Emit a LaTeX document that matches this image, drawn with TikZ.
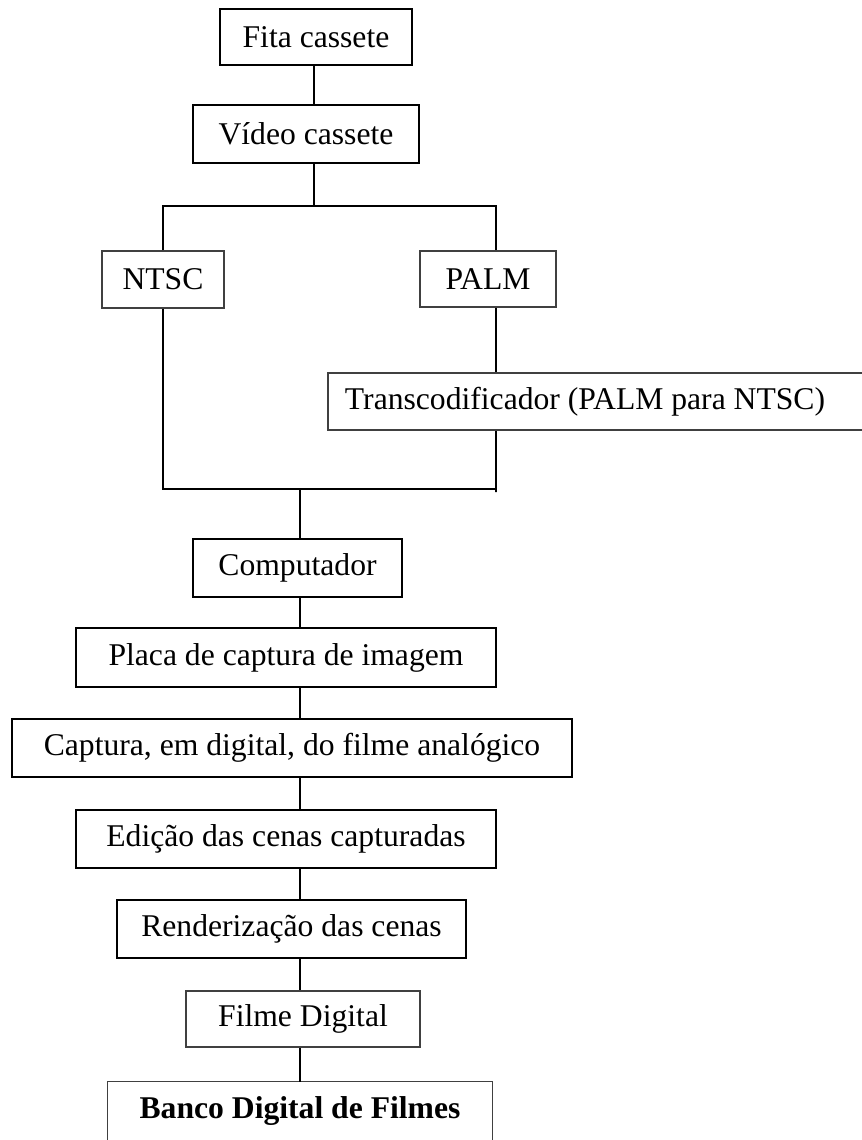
\documentclass[tikz,border=0pt]{standalone}
\usepackage{fontspec}
\setmainfont{Liberation Serif}
\tikzset{
  caixa/.style={draw, line width=1.3pt, inner sep=0pt},
  caixafina/.style={draw=black!75, line width=0.8pt, inner sep=0pt},
  tam/.style 2 args={minimum width=#1*0.025cm, minimum height=#2*0.025cm},
  liga/.style={line width=1.3pt}
}
\begin{document}
\begin{tikzpicture}[x=0.025cm, y=-0.025cm, font=\fontsize{22.5}{27}\selectfont]
\useasboundingbox (0,0) rectangle (862,1140);
% caixas
\node[caixa, tam={192}{56}] (fita) at (316,37){Fita cassete};
\node[caixa, tam={226}{58}] (video) at (306,134){Vídeo cassete};
\node[caixafina, tam={122}{57}] (ntsc) at (163,279.5){NTSC};
\node[caixafina, tam={136}{56}] (palm) at (488,279){PALM};
\node[caixafina, tam={538}{57}] (trans) at (597,401.5){\hspace{-17pt}Transcodificador (PALM para NTSC)};
\node[caixa, tam={209}{58}] (comp) at (297.5,568){Computador};
\node[caixa, tam={420}{59}] (placa) at (286,657.5){Placa de captura de imagem};
\node[caixa, tam={560}{58}] (captura) at (292,748){Captura, em digital, do filme analógico};
\node[caixa, tam={420}{58}] (edicao) at (286,839){Edição das cenas capturadas};
\node[caixa, tam={349}{58}] (render) at (291.5,929){Renderização das cenas};
\node[caixafina, tam={234}{56}] (filme) at (303,1019){Filme Digital};
\node[tam={384}{58}, inner sep=0pt] (banco) at (300,1111){\bfseries Banco Digital de Filmes};
\draw[caixafina] (banco.south west) ++(0,10) -- (banco.north west) -- (banco.north east) -- ++(0,68);
% pontos de ligacao
\coordinate (tl) at (163,206);
\coordinate (tm) at (314,206);
\coordinate (tr) at (496,206);
\coordinate (bl) at (163,489);
\coordinate (bm) at (300,489);
\coordinate (br) at (496,489);
\coordinate (eixo) at (300,0);
% ligacoes
\draw[liga] (fita.south -| tm) -- (video.north -| tm);
\draw[liga] (video.south -| tm) -- (tm);
\draw[liga] (ntsc.north -| tl) -- (tl) -- (tr) -- (palm.north -| tr);
\draw[liga] (palm.south -| tr) -- (trans.north -| tr);
\draw[liga] (ntsc.south -| bl) -- ++(0,3) -- (bl) -- (br) -- ++(0,3) -- (trans.south -| br);
\draw[liga] (bm) -- (comp.north -| bm);
\foreach \a/\b in {comp/placa, placa/captura, captura/edicao, edicao/render, render/filme, filme/banco}
  \draw[liga] (\a.south -| eixo) -- (\b.north -| eixo);
\end{tikzpicture}
\end{document}
